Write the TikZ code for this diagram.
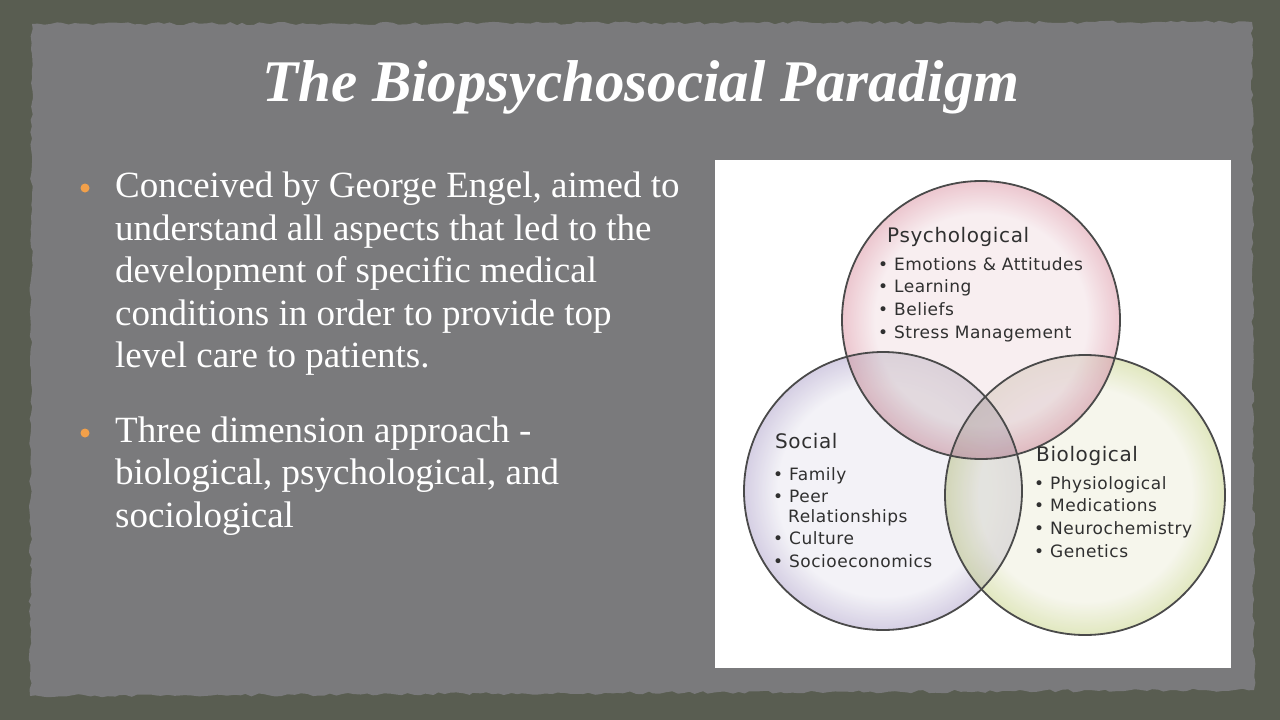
\documentclass[tikz,border=0pt]{standalone}
\usepackage{fontspec}
\setmainfont{Liberation Serif}
\newfontfamily\dv[LetterSpace=3]{DejaVu Sans}
\usetikzlibrary{decorations.pathmorphing}
\definecolor{outerbg}{HTML}{595D51}
\definecolor{paper}{HTML}{7A7A7C}
\definecolor{bulletorange}{HTML}{F2A04A}
\definecolor{ringline}{HTML}{4A4A4A}
\definecolor{vtext}{HTML}{303030}
\definecolor{psyin}{HTML}{F6E9EC}
\definecolor{psyout}{HTML}{E6B4BF}
\definecolor{socin}{HTML}{F0EFF5}
\definecolor{socout}{HTML}{CBC3DD}
\definecolor{bioin}{HTML}{F4F4E8}
\definecolor{bioout}{HTML}{DAE2B0}
\pgfdeclareradialshading{psyshade}{\pgfpoint{0bp}{0bp}}{color(0bp)=(psyin); color(19bp)=(psyin); color(25bp)=(psyout); color(50bp)=(psyout)}
\pgfdeclareradialshading{socshade}{\pgfpoint{0bp}{0bp}}{color(0bp)=(socin); color(19bp)=(socin); color(25bp)=(socout); color(50bp)=(socout)}
\pgfdeclareradialshading{bioshade}{\pgfpoint{0bp}{0bp}}{color(0bp)=(bioin); color(19bp)=(bioin); color(25bp)=(bioout); color(50bp)=(bioout)}
\tikzset{
  titletext/.style={anchor=base, text=white, inner sep=0pt, font=\bfseries\itshape\fontsize{59}{66}\selectfont},
  bodyline/.style={anchor=base west, text=white, inner sep=0pt, font=\fontsize{37}{42}\selectfont},
  obullet/.style={fill=bulletorange, draw=none},
  ring/.style={draw=ringline, line width=1.8pt},
  lens/.style={fill=#1, fill opacity=0.15},
  vhead/.style={anchor=base west, text=vtext, inner sep=0pt, font=\dv\fontsize{20}{24}\selectfont},
  vitem/.style={anchor=base west, text=vtext, inner sep=0pt, font=\dv\fontsize{17}{20}\selectfont},
}
\begin{document}
\begin{tikzpicture}[x=1pt,y=-1pt]
\useasboundingbox (0,0) rectangle (1280,720);
\fill[outerbg] (0,0) rectangle (1280,720);
\pgfmathsetseed{7}
\fill[paper, decorate, decoration={random steps,segment length=6pt,amplitude=1.6pt}]
  (32,24) -- (1252,22) -- (1254,690) -- (30,696) -- cycle;

% title
\node[titletext] (title) at (641,101) {The Biopsychosocial Paradigm};

% bullets
\fill[obullet] (85,188) circle (4.5pt);
\fill[obullet] (85,433) circle (4.5pt);
\node[bodyline] (b1) at (115,197) {Conceived by George Engel, aimed to};
\node[bodyline] (b2) at (115,240) {understand all aspects that led to the};
\node[bodyline] (b3) at (115,282) {development of specific medical};
\node[bodyline] (b4) at (115,325) {conditions in order to provide top};
\node[bodyline] (b5) at (115,367) {level care to patients.};
\node[bodyline] (c1) at (115,442) {Three dimension approach -};
\node[bodyline] (c2) at (115,484) {biological, psychological, and};
\node[bodyline] (c3) at (115,527) {sociological};

% image panel
\fill[white] (715,160) rectangle (1231,668);

% circles
\shade[shading=socshade, fill opacity=0.8] (883,491) circle (139pt);
\shade[shading=bioshade, fill opacity=0.8] (1085,495) circle (140pt);
\shade[shading=psyshade, fill opacity=0.75] (981,320) circle (139pt);
% overlaps
\begin{scope}
  \clip (883,491) circle (139pt);
  \fill[lens=socout!70!black] (1085,495) circle (140pt);
\end{scope}
\begin{scope}
  \clip (883,491) circle (139pt);
  \fill[lens=socout!60!black] (981,320) circle (139pt);
\end{scope}
\begin{scope}
  \clip (1085,495) circle (140pt);
  \fill[lens=psyout!75!black] (981,320) circle (139pt);
\end{scope}
\draw[ring] (883,491) circle (139pt);
\draw[ring] (1085,495) circle (140pt);
\draw[ring] (981,320) circle (139pt);

% psychological
\node[vhead] (ph) at (887,242) {Psychological};
\node[vitem] (p1) at (878,270) {• Emotions \& Attitudes};
\node[vitem] (p2) at (878,292) {• Learning};
\node[vitem] (p3) at (878,315) {• Beliefs};
\node[vitem] (p4) at (878,338) {• Stress Management};

% social
\node[vhead] (sh) at (775,448) {Social};
\node[vitem] (s1) at (773,480) {• Family};
\node[vitem] (s2) at (773,502) {• Peer};
\node[vitem] (s3) at (788,522) {Relationships};
\node[vitem] (s4) at (773,544) {• Culture};
\node[vitem] (s5) at (773,567) {• Socioeconomics};

% biological
\node[vhead] (bh) at (1036,461) {Biological};
\node[vitem] (o1) at (1034,489) {• Physiological};
\node[vitem] (o2) at (1034,511) {• Medications};
\node[vitem] (o3) at (1034,534) {• Neurochemistry};
\node[vitem] (o4) at (1034,557) {• Genetics};
\end{tikzpicture}
\end{document}
